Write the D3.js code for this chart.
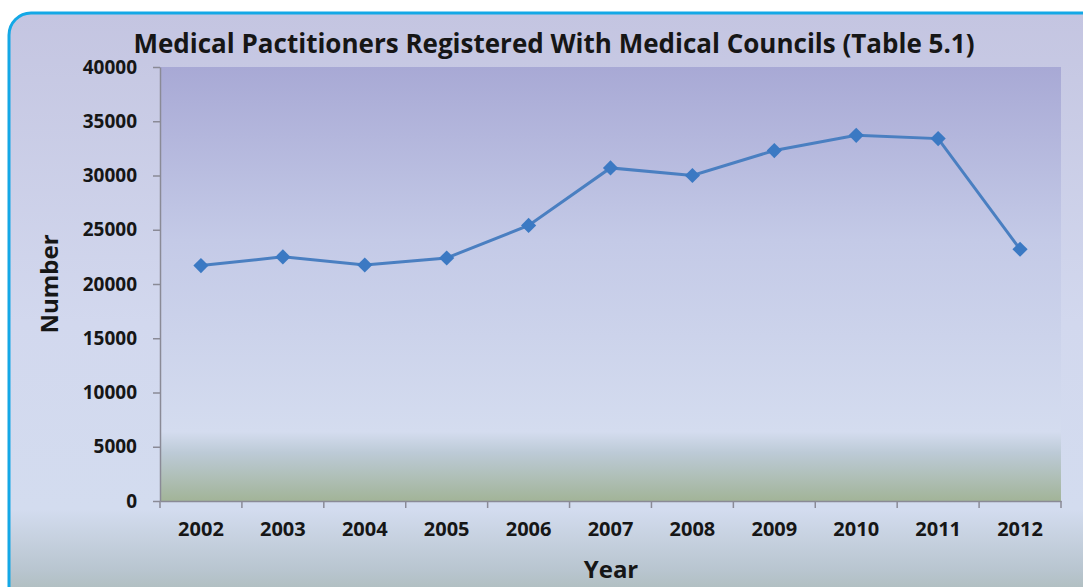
<!DOCTYPE html>
<meta charset="utf-8">
<title>Medical Pactitioners</title>
<style>
body { margin: 0; background: #fff; }
svg text { font-family: "Open Sans", "DejaVu Sans", sans-serif; font-weight: bold; fill: #161616; }
</style>
<script src="https://cdn.jsdelivr.net/npm/d3@7"></script>
<body>
<script>
var years = ["2002","2003","2004","2005","2006","2007","2008","2009","2010","2011","2012"];
var practitioners = [21700, 22500, 21750, 22400, 25400, 30700, 30000, 32300, 33700, 33400, 23200];
var yTicks = [0, 5000, 10000, 15000, 20000, 25000, 30000, 35000, 40000];

var width = 1083, height = 587;
var margin = {left: 160, right: 22, top: 67, bottom: 86};

var svg = d3.select("body").append("svg")
    .attr("width", width)
    .attr("height", height);

var defs = svg.append("defs");

// outer panel gradient
var g1 = defs.append("linearGradient").attr("id", "outer")
    .attr("x1", 0).attr("y1", 0).attr("x2", 0).attr("y2", 1);
g1.append("stop").attr("offset", "0%").attr("stop-color", "#c4c5e1");
g1.append("stop").attr("offset", "50%").attr("stop-color", "#d2d8ee");
g1.append("stop").attr("offset", "80%").attr("stop-color", "#d3dcef");
g1.append("stop").attr("offset", "90%").attr("stop-color", "#b8c5cf");
g1.append("stop").attr("offset", "100%").attr("stop-color", "#9fb09f");

// plot area gradient
var g2 = defs.append("linearGradient").attr("id", "plot")
    .attr("x1", 0).attr("y1", 0).attr("x2", 0).attr("y2", 1);
g2.append("stop").attr("offset", "0%").attr("stop-color", "#a8a9d5");
g2.append("stop").attr("offset", "40%").attr("stop-color", "#c4cae7");
g2.append("stop").attr("offset", "84%").attr("stop-color", "#d4dcef");
g2.append("stop").attr("offset", "89%").attr("stop-color", "#bccad6");
g2.append("stop").attr("offset", "100%").attr("stop-color", "#a2b498");

svg.append("rect")
    .attr("x", 9).attr("y", 13)
    .attr("width", 1100).attr("height", 620)
    .attr("rx", 22)
    .attr("fill", "url(#outer)")
    .attr("stroke", "#14a8e6")
    .attr("stroke-width", 3);

var x = d3.scaleBand()
    .domain(years)
    .range([margin.left, width - margin.right]);

var y = d3.scaleLinear()
    .domain([0, 40000])
    .range([height - margin.bottom, margin.top]);

svg.append("rect")
    .attr("x", margin.left).attr("y", margin.top)
    .attr("width", x.range()[1] - margin.left)
    .attr("height", y(0) - margin.top)
    .attr("fill", "url(#plot)");

// y axis
var yAxis = svg.append("g")
    .attr("transform", "translate(" + margin.left + ",0)")
    .call(d3.axisLeft(y).tickValues(yTicks).tickFormat(d3.format("d"))
      .tickSize(7).tickPadding(16).tickSizeOuter(0));
yAxis.selectAll("text").style("font-size", "19px");

// x axis, ticks between categories
var xAxis = svg.append("g")
    .attr("transform", "translate(0," + y(0) + ")")
    .call(d3.axisBottom(x).tickSize(0).tickPadding(21).tickSizeOuter(0));
xAxis.selectAll("text").style("font-size", "20px");
xAxis.selectAll(".sep")
    .data(years.concat(["end"]))
    .enter().append("line")
    .attr("class", "sep")
    .attr("x1", function(d, i) { return margin.left + i * x.step(); })
    .attr("x2", function(d, i) { return margin.left + i * x.step(); })
    .attr("y1", 0).attr("y2", 7);

svg.selectAll(".domain, .tick line, .sep")
    .attr("stroke", "#8a8a96")
    .attr("stroke-width", 1.5);

// line and markers
var line = d3.line()
    .x(function(d, i) { return x(years[i]) + x.bandwidth() / 2; })
    .y(function(d) { return y(d); });

svg.append("path")
    .datum(practitioners)
    .attr("d", line)
    .attr("fill", "none")
    .attr("stroke", "#4a7fc1")
    .attr("stroke-width", 3);

svg.selectAll(".pt")
    .data(practitioners)
    .enter().append("path")
    .attr("class", "pt")
    .attr("d", d3.symbol().type(d3.symbolSquare).size(115))
    .attr("transform", function(d, i) {
      return "translate(" + (x(years[i]) + x.bandwidth() / 2) + "," + y(d) + ") rotate(45)";
    })
    .attr("fill", "#3b79c3");

// titles
svg.append("text")
    .attr("x", 554).attr("y", 53)
    .attr("text-anchor", "middle")
    .style("font-size", "26px")
    .text("Medical Pactitioners Registered With Medical Councils (Table 5.1)");

svg.append("text")
    .attr("x", 611).attr("y", 578)
    .attr("text-anchor", "middle")
    .style("font-size", "24px")
    .text("Year");

svg.append("text")
    .attr("transform", "translate(58,284) rotate(-90)")
    .attr("text-anchor", "middle")
    .style("font-size", "24px")
    .text("Number");
</script>
</body>
